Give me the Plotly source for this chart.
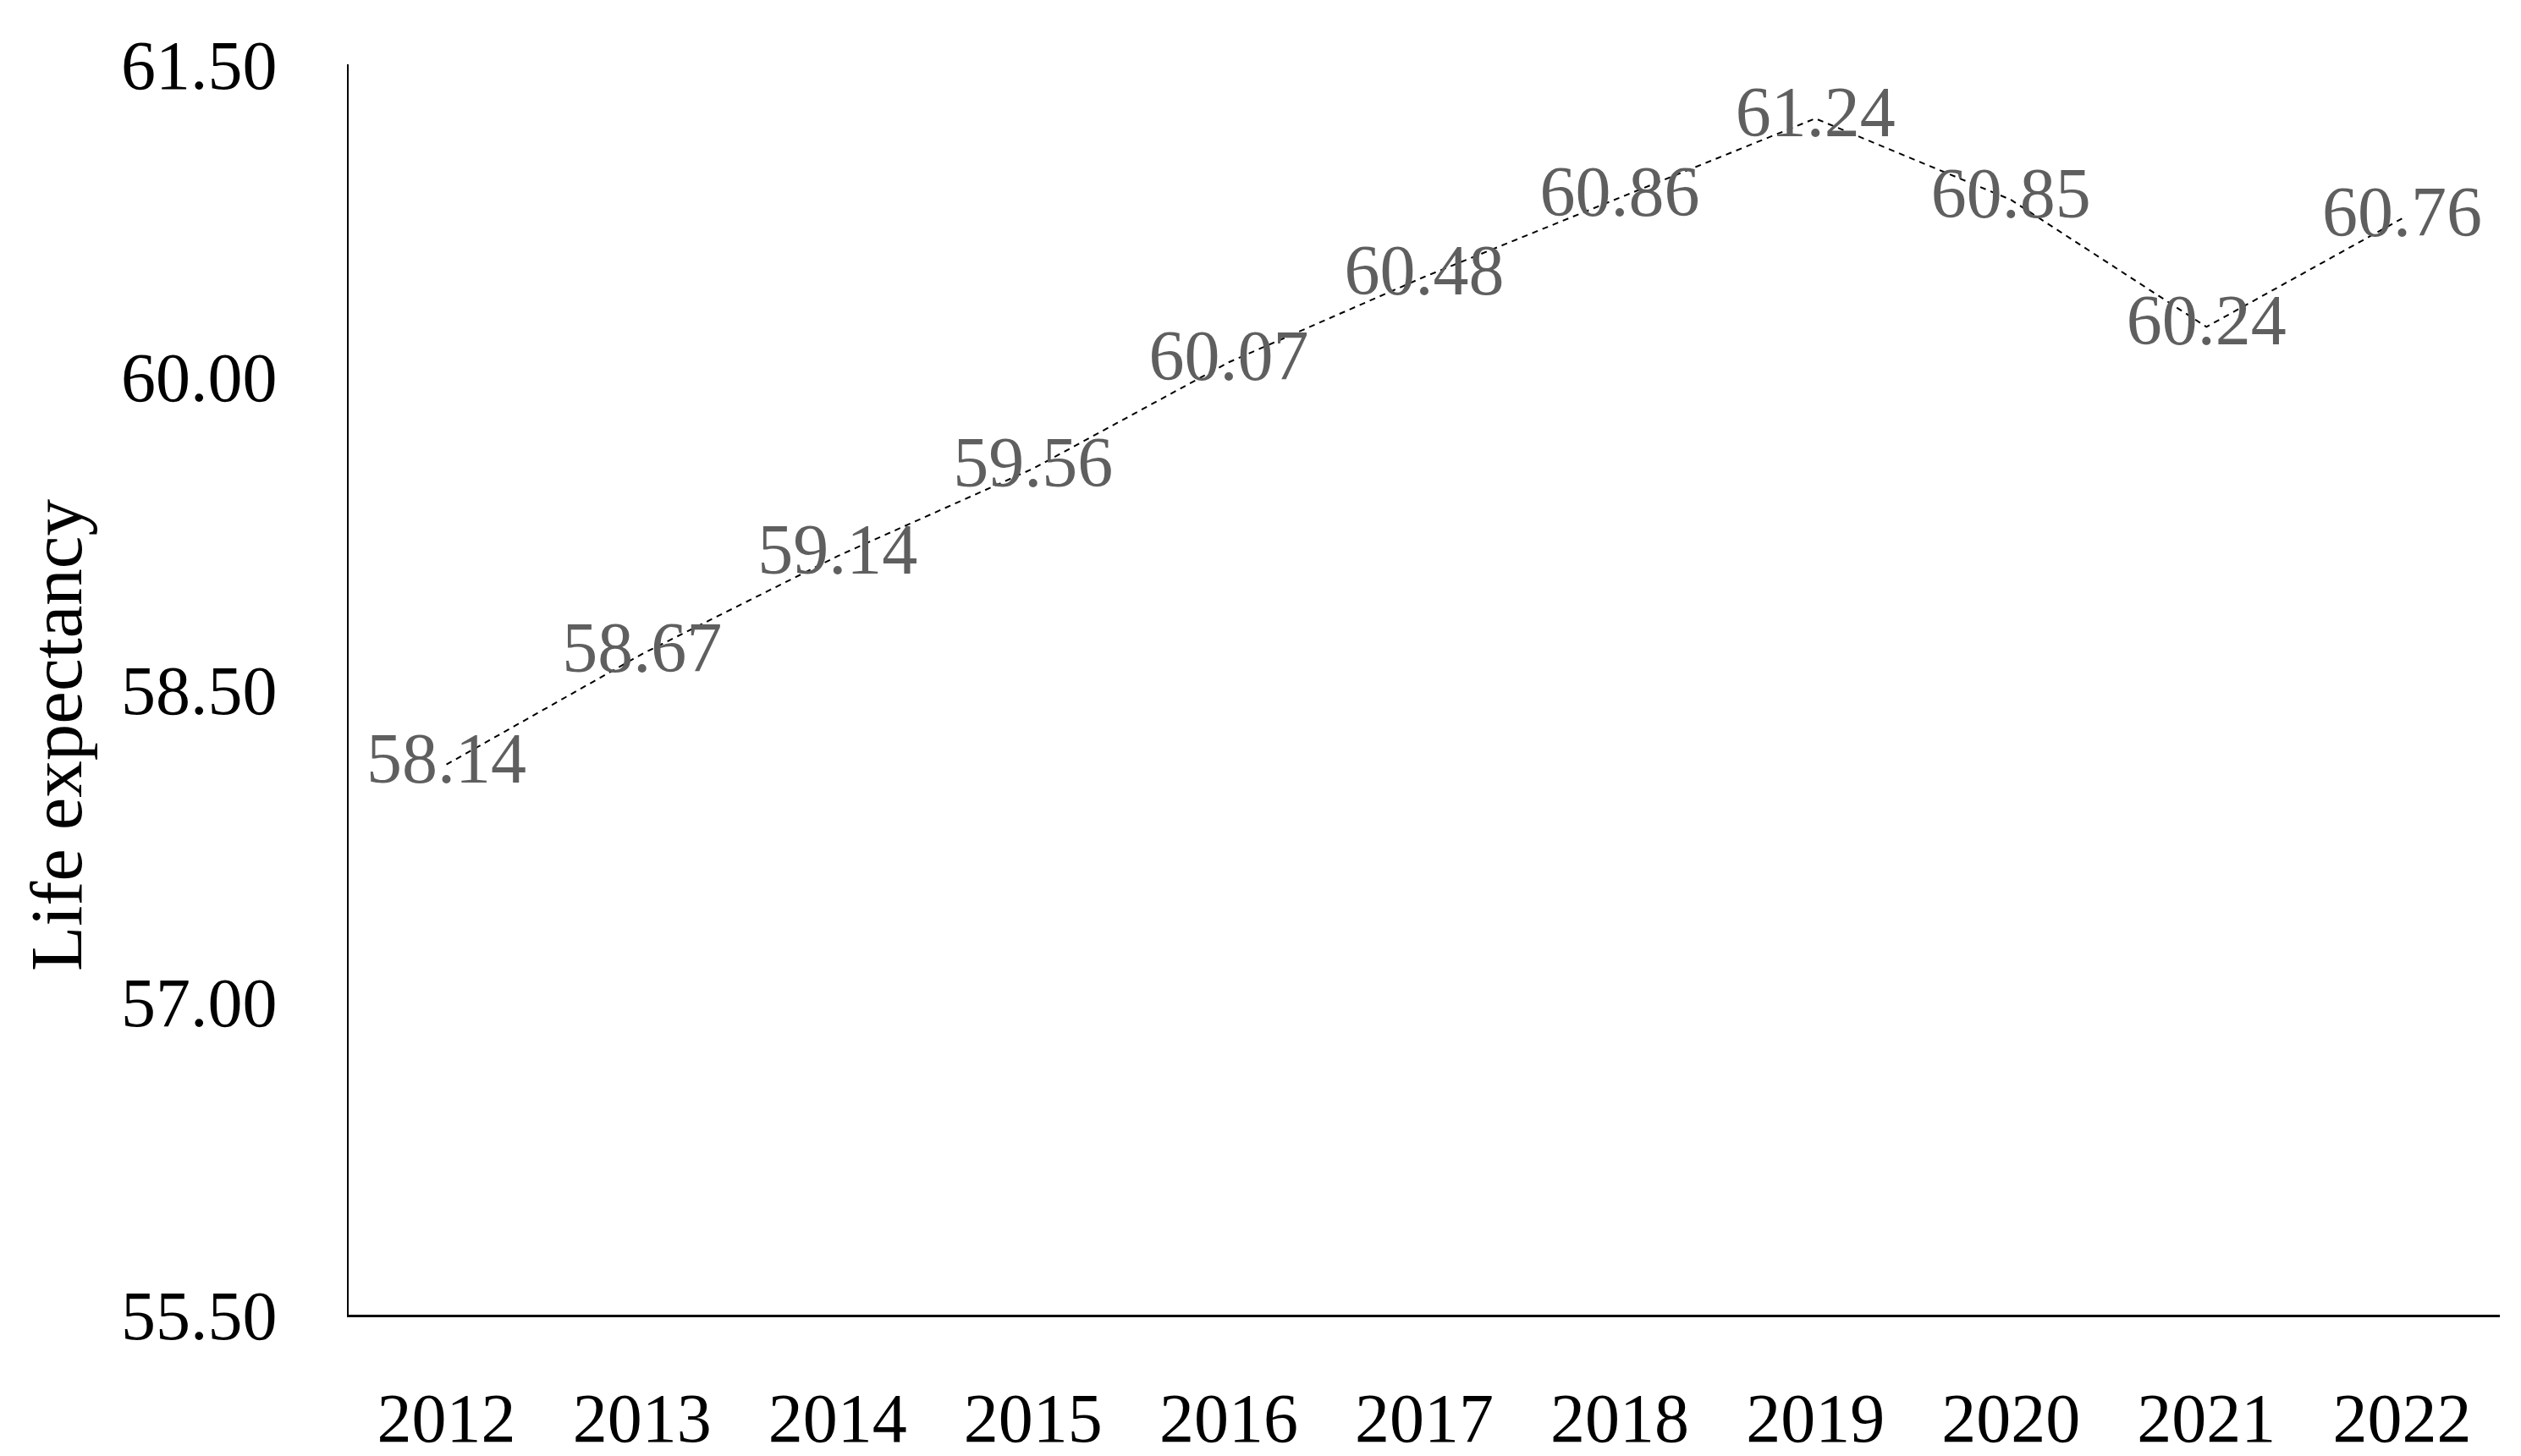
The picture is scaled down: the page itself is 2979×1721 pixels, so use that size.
import plotly.graph_objects as go

# Esperanza de vida por año
anios = ["2012", "2013", "2014", "2015", "2016", "2017", "2018", "2019", "2020", "2021", "2022"]
esperanza = [58.14, 58.67, 59.14, 59.56, 60.07, 60.48, 60.86, 61.24, 60.85, 60.24, 60.76]
ticks_y = [55.5, 57.0, 58.5, 60.0, 61.5]

FUENTE = "Liberation Serif, Times New Roman, serif"

fig = go.Figure(go.Scatter(
    x=anios, y=esperanza,
    mode="lines+text",
    line=dict(color="black", width=2, dash="7px,6px"),
    text=[f"{v:.2f}" for v in esperanza],
    textposition="middle center",
    textfont=dict(family=FUENTE, size=84, color="#5f5f5f"),
    cliponaxis=False,
))

fig.update_layout(
    width=2979, height=1721,
    paper_bgcolor="white", plot_bgcolor="white",
    margin=dict(l=404, r=33, t=68, b=175, autoexpand=False),
    font=dict(family=FUENTE, size=82, color="black"),
    showlegend=False,
)
fig.update_xaxes(
    type="category", range=[-0.5, 10.5], automargin=False,
    showline=True, linecolor="black", linewidth=3,
    showgrid=False, zeroline=False, ticks="",
    ticklabelstandoff=49,
)
fig.update_yaxes(
    range=[55.5, 61.5], tickvals=ticks_y, automargin=False,
    ticktext=[f"{v:.2f}" for v in ticks_y],
    showline=True, linecolor="black", linewidth=2,
    showgrid=False, zeroline=False, ticks="",
    ticklabelstandoff=66,
)

# título del eje Y, un poco por debajo del centro como en el original
fig.add_annotation(
    text="Life expectancy", textangle=-90,
    xref="paper", yref="paper", x=0, y=0.5,
    xanchor="center", yanchor="middle",
    xshift=-346, yshift=-54, showarrow=False,
    font=dict(family=FUENTE, size=87, color="black"),
)

fig.write_html("out.html")
